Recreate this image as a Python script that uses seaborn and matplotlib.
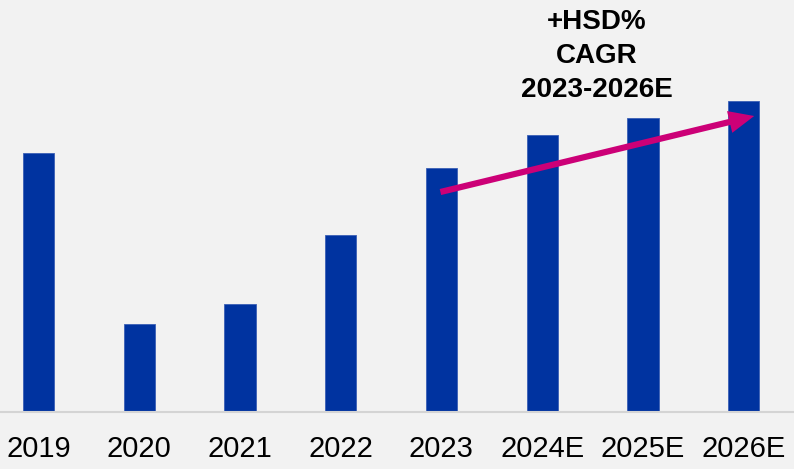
import matplotlib
matplotlib.use("Agg")
import matplotlib.pyplot as plt
import seaborn as sns
import pandas as pd

years = ["2019", "2020", "2021", "2022", "2023", "2024E", "2025E", "2026E"]
values = [259, 88, 108, 177, 244, 277, 294, 311]
annotation = "+HSD%\nCAGR\n2023-2026E"

sns.set_theme(style="white")
plt.rcParams["font.family"] = ["Liberation Sans", "DejaVu Sans"]

df = pd.DataFrame({"year": years, "value": values})

fig = plt.figure(figsize=(7.94, 4.69), dpi=100, facecolor="#f2f2f2")
ax = fig.add_axes([0, 57.5 / 469, 1, 1 - 57.5 / 469])
ax.set_facecolor("#f2f2f2")

sns.barplot(data=df, x="year", y="value", color="#0033a0", saturation=1,
            width=0.31, ax=ax, edgecolor="#3a5fb5", linewidth=0.6)

ax.set_xlim(-0.382, 7.5)
ax.set_ylim(0, 411.5)
ax.set_xlabel("")
ax.set_ylabel("")
ax.set_yticks([])
for s in ["top", "left", "right"]:
    ax.spines[s].set_visible(False)
ax.spines["bottom"].set_color("#d4d4d4")
ax.spines["bottom"].set_linewidth(1.5)
ax.tick_params(axis="x", length=0, labelsize=21, pad=17, colors="black")

# CAGR arrow
ax.annotate("", xy=(7.105, 295.5), xytext=(3.99, 219.5),
            arrowprops=dict(arrowstyle="simple,head_length=1.3,head_width=1.15,tail_width=0.32",
                            color="#cc0077", mutation_scale=14, shrinkA=0, shrinkB=0, lw=0))

fig.text(597 / 794, 1 - 56 / 469, annotation, ha="center", va="center",
         fontsize=20, fontweight="bold", color="black", linespacing=1.42)

fig.savefig("out.png", dpi=100, facecolor=fig.get_facecolor())
